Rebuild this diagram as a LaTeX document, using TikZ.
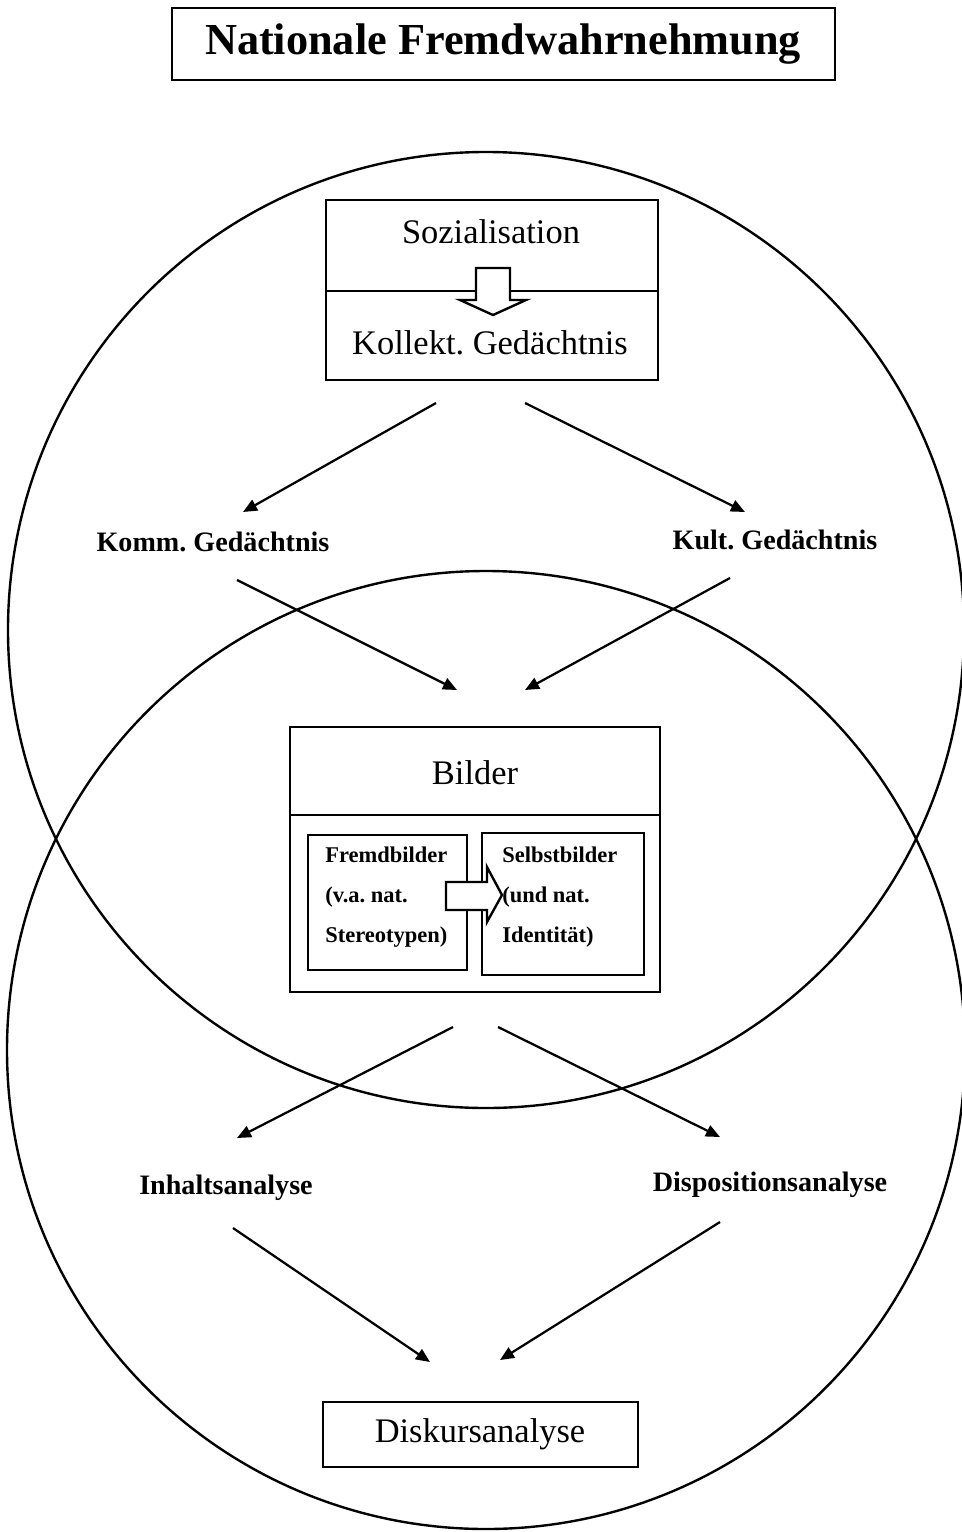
\documentclass[tikz,border=0pt]{standalone}
\usepackage{fontspec}
\setmainfont{Liberation Serif}
\usetikzlibrary{arrows.meta}
\frenchspacing
\tikzstyle{frame}=[draw,line width=1.7pt]
\tikzstyle{hollow}=[draw,line width=1.7pt,fill=white,line join=miter]
\tikzstyle{edge} = [draw,line width=1.6pt,-{Triangle[length=10pt,width=8.5pt]}]
\tikzstyle{titletext}=[inner sep=0pt,font=\bfseries\fontsize{31.5}{36}\selectfont]
\tikzstyle{bigtext}=[inner sep=0pt,font=\fontsize{24.5}{28}\selectfont]
\tikzstyle{sidetext}=[inner sep=0pt,font=\bfseries\fontsize{20}{23}\selectfont]
\tikzstyle{smalltext}=[inner sep=0pt,anchor=west,align=left,font=\bfseries\fontsize{16}{28.5}\selectfont]

\begin{document}
\begin{tikzpicture}[x=0.025cm,y=-0.025cm]
    \useasboundingbox (0,0) rectangle (961,1532);
    % The two overlapping circles
    \draw[frame] (486,630) circle [radius=478];
    \draw[frame] (486,1050) circle [radius=479];

    % Title
    \draw[frame] (172,8) rectangle (835,80);
    \node[titletext] (title) at (503,44) {Nationale Fremdwahrnehmung};

    % Upper box
    \draw[frame] (326,200) rectangle (658,380);
    \draw[frame] (326,291) -- (658,291);
    \path[hollow] (476,268) -- (510,268) -- (510,300) -- (526,300) -- (493,315) -- (460,300) -- (476,300) -- cycle;
    \node[bigtext] (soz) at (491,232) {Sozialisation};
    \node[bigtext] (koll) at (490,343) {Kollekt. Gedächtnis};

    % Middle labels
    \node[sidetext] (komm) at (213,542) {Komm. Gedächtnis};
    \node[sidetext] (kult) at (775,540) {Kult. Gedächtnis};

    % Bilder box with the two inner boxes
    \draw[frame] (290,727) rectangle (660,992);
    \draw[frame] (290,815) -- (660,815);
    \node[bigtext] (bilder) at (475,773) {Bilder};
    \draw[frame] (308,835) rectangle (467,970);
    \draw[frame] (482,833) rectangle (644,975);
    \path[hollow] (446,882) -- (487,882) -- (487,867) -- (502,895) -- (487,922) -- (487,910) -- (446,910) -- cycle;
    \node[smalltext] (fremd) at (325,897) {Fremdbilder\\(v.a. nat.\\Stereotypen)};
    \node[smalltext] (selbst) at (502,897) {Selbstbilder\\(und nat.\\Identität)};

    % Lower labels
    \node[sidetext] (inhalt) at (226,1188) {Inhaltsanalyse};
    \node[sidetext] (dispo) at (770,1185) {Dispositionsanalyse};
    \draw[frame] (323,1402) rectangle (638,1467);
    \node[bigtext] (diskurs) at (480,1434) {Diskursanalyse};

    % Arrow ends
    \foreach \pos/\name in {{(436,403)/s_1}, {(243,512)/e_1}, {(525,403)/s_2}, {(745,512)/e_2},
        {(237,580)/s_3}, {(457,690)/e_3}, {(730,578)/s_4}, {(525,690)/e_4},
        {(453,1027)/s_5}, {(237,1138)/e_5}, {(498,1027)/s_6}, {(720,1137)/e_6},
        {(233,1228)/s_7}, {(430,1362)/e_7}, {(720,1222)/s_8}, {(500,1360)/e_8}}
        \path \pos coordinate (\name);

    % Connect them
    \foreach \source/ \dest in {s_1/e_1, s_2/e_2, s_3/e_3, s_4/e_4, s_5/e_5, s_6/e_6, s_7/e_7, s_8/e_8}
        \path[edge] (\source) -- (\dest) ;

\end{tikzpicture}
\end{document}
